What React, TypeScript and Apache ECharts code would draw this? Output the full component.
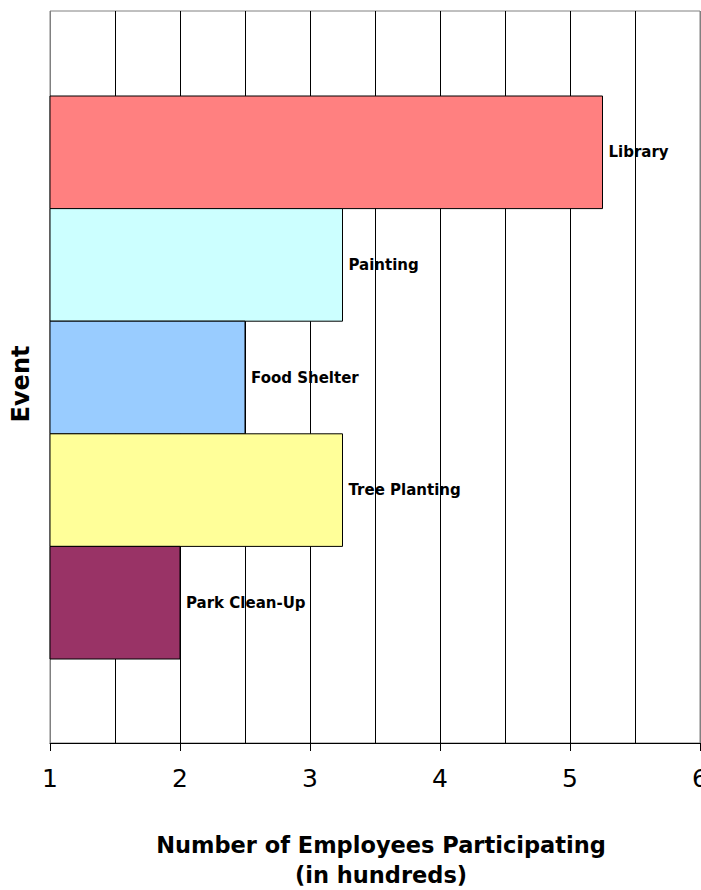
import React, { useEffect, useRef } from "react";
import * as echarts from "echarts";

// Events and participation (hundreds of employees)
const categories = ["Library", "Painting", "Food Shelter", "Tree Planting", "Park Clean-Up"];
const participants = [5.25, 3.25, 2.5, 3.25, 2];
const barColors = ["#FF8080", "#CCFFFF", "#99CCFF", "#FFFF99", "#993366"];

// Horizontal axis range and step
const xMin = 1;
const xMax = 6;
const xStep = 1;

const xTitle = "Number of Employees Participating\n(in hundreds)";
const yTitle = "Event";

const FONT = "DejaVu Sans";
const WIDTH = 701;
const HEIGHT = 890;

export default function App() {
  const ref = useRef<HTMLDivElement>(null);

  useEffect(() => {
    document.documentElement.style.margin = "0";
    document.documentElement.style.overflow = "hidden";
    document.body.style.margin = "0";
    document.body.style.overflow = "hidden";
    if (!ref.current) return;
    const chart = echarts.init(ref.current, undefined, {
      renderer: "svg",
      width: WIDTH,
      height: HEIGHT,
    });

    const option: any = {
      animation: false,
      backgroundColor: "#ffffff",
      grid: [
        // frame with gridlines and axis
        {
          left: 50,
          top: 11,
          width: 650,
          height: 732,
          outerBoundsMode: "none",
          containLabel: false,
          show: true,
          borderColor: "#808080",
          borderWidth: 1,
          backgroundColor: "transparent",
        },
        // band holding the bars
        {
          left: 50,
          top: 96,
          width: 650,
          height: 563,
          outerBoundsMode: "none",
          containLabel: false,
        },
      ],
      xAxis: [
        {
          gridIndex: 0,
          type: "value",
          min: xMin,
          max: xMax,
          interval: xStep,
          axisLine: { show: true, lineStyle: { color: "#000", width: 1 } },
          axisTick: { show: true, length: 8, lineStyle: { color: "#000", width: 1 } },
          axisLabel: {
            show: true,
            margin: 23,
            color: "#000",
            fontFamily: FONT,
            fontSize: 25,
          },
          splitLine: {
            show: true,
            lineStyle: {
              color: ["#808080", "#000", "#000", "#000", "#000", "#808080"],
              width: 1,
            },
          },
          minorTick: { show: false, splitNumber: 2 },
          minorSplitLine: { show: true, lineStyle: { color: "#000", width: 1 } },
          name: xTitle,
          nameLocation: "middle",
          nameGap: 87,
          nameTextStyle: {
            color: "#000",
            fontFamily: FONT,
            fontSize: 22.5,
            fontWeight: "bold",
            lineHeight: 30,
            padding: [0, 0, 0, 12],
          },
        },
        {
          gridIndex: 1,
          type: "value",
          min: xMin,
          max: xMax,
          show: false,
        },
      ],
      yAxis: [
        {
          gridIndex: 0,
          type: "value",
          axisLine: { show: false },
          axisTick: { show: false },
          axisLabel: { show: false },
          splitLine: { show: false },
          name: yTitle,
          nameLocation: "middle",
          nameRotate: 90,
          nameGap: 17,
          nameTextStyle: {
            color: "#000",
            fontFamily: FONT,
            fontSize: 24,
            fontWeight: "bold",
            padding: [0, 14, 0, 0],
          },
        },
        {
          gridIndex: 1,
          type: "category",
          data: categories,
          inverse: true,
          show: false,
        },
      ],
      series: [
        {
          type: "custom",
          xAxisIndex: 1,
          yAxisIndex: 1,
          encode: { x: 0, y: 1 },
          data: categories.map((_, i) => [participants[i], i]),
          renderItem: (params: any, api: any) => {
            const i = params.dataIndex;
            const v = api.value(0);
            const start = api.coord([xMin, i]);
            const end = api.coord([v, i]);
            const band = api.size([0, 1])[1];
            return {
              type: "group",
              children: [
                {
                  type: "rect",
                  shape: {
                    x: start[0],
                    y: start[1] - band / 2,
                    width: end[0] - start[0],
                    height: band,
                  },
                  style: { fill: barColors[i], stroke: "#000", lineWidth: 1 },
                },
                {
                  type: "text",
                  x: end[0] + 6,
                  y: end[1],
                  style: {
                    text: categories[i],
                    fill: "#000",
                    fontFamily: FONT,
                    fontSize: 15,
                    fontWeight: "bold",
                    align: "left",
                    verticalAlign: "middle",
                  },
                },
              ],
            };
          },
        },
      ],
    };

    chart.setOption(option);
    return () => chart.dispose();
  }, []);

  return (
    <div ref={ref} style={{ width: WIDTH, height: HEIGHT, overflow: "hidden" }} />
  );
}
